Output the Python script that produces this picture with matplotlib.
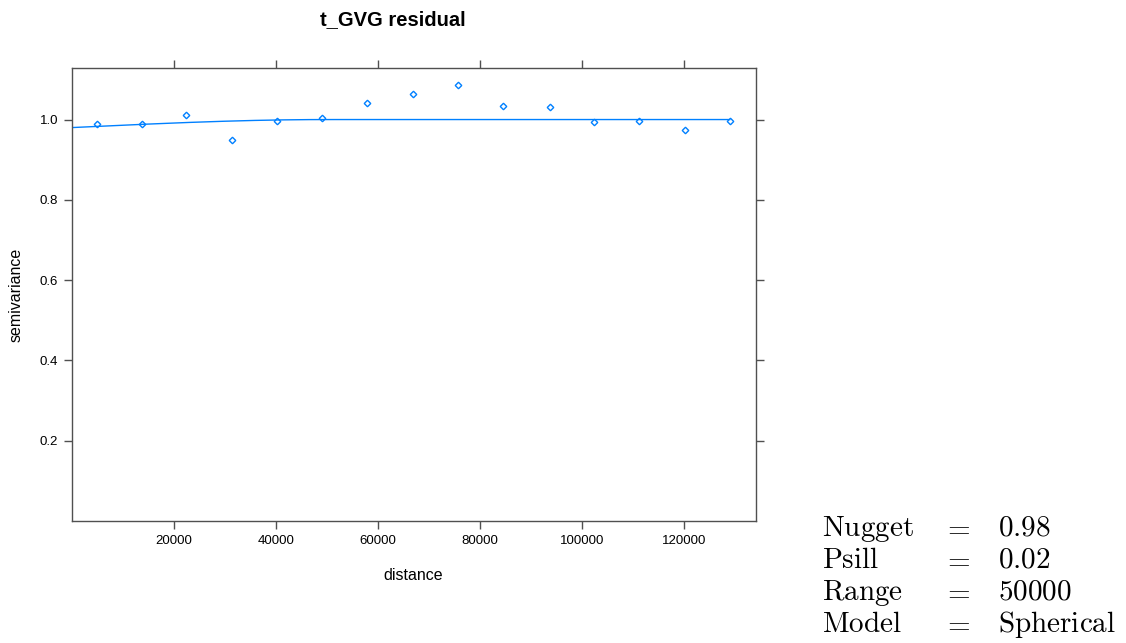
import numpy as np
import matplotlib
matplotlib.use("Agg")
import matplotlib.pyplot as plt

# ---- data ----
dist = [4996, 13651, 22444, 31295, 40147, 48998, 57850, 66819,
        75670, 84600, 93648, 102421, 111272, 120124, 128975]
gamma = [0.988, 0.989, 1.012, 0.949, 0.997, 1.005, 1.042, 1.063,
         1.085, 1.034, 1.032, 0.993, 0.997, 0.975, 0.997]
nugget = 0.98
psill = 0.02
vrange = 50000
model_name = "Spherical"
xticks = [20000, 40000, 60000, 80000, 100000, 120000]
yticks = [0.2, 0.4, 0.6, 0.8, 1.0]
title = "t_GVG residual"

plt.rcParams['font.family'] = ['Liberation Sans', 'DejaVu Sans']
plt.rcParams['mathtext.fontset'] = 'cm'

fig = plt.figure(figsize=(11.26, 6.43), dpi=100)
W, H = 1126, 643
ax = fig.add_axes([72 / W, 1 - 521 / H, (756 - 72) / W, (521 - 68) / H])

blue = "#0080ff"
# fitted spherical model curve
hx = np.linspace(0, max(dist), 400)
hr = np.clip(hx / vrange, 0, 1)
model = nugget + psill * (1.5 * hr - 0.5 * hr ** 3)
ax.plot(hx, model, color=blue, lw=1.0)
ax.plot(dist, gamma, linestyle='none', marker='D', ms=3.3, mfc='none',
        mec=blue, mew=1.0)

ax.set_xlim(0, 1.04 * max(dist))
ax.set_ylim(0, 1.04 * max(gamma))
ax.set_xticks(xticks)
ax.set_xticklabels([str(v) for v in xticks])
ax.set_yticks(yticks)
ax.set_yticklabels([f"{v:.1f}" for v in yticks])
frame = "#505050"
for s in ax.spines.values():
    s.set_color(frame)
    s.set_linewidth(1.0)
ax.tick_params(axis='both', which='both', direction='out', length=6,
               width=1, color=frame, labelsize=9.5, labelcolor='black',
               top=True, right=True, labeltop=False, labelright=False, pad=4)

fig.text(413 / W, 1 - 576 / H, "distance", ha='center', va='center', fontsize=11.5)
fig.text(16 / W, 1 - 295 / H, "semivariance", ha='center', va='center',
         rotation=90, fontsize=11.5)
fig.text(393 / W, 1 - 20 / H, title, ha='center', va='center',
         fontsize=14.5, fontweight='bold')

rows = [("Nugget", f"{nugget:.2f}"), ("Psill", f"{psill:.2f}"),
        ("Range", f"{vrange}"), ("Model", model_name)]
baselines = [536, 568, 600, 632]
for (lab, val), yb in zip(rows, baselines):
    y = 1 - yb / H
    fig.text(822 / W, y, r"$\mathrm{%s}$" % lab, ha='left', va='baseline', fontsize=21)
    fig.text(956 / W, y, r"$=$", ha='center', va='baseline', fontsize=21)
    fig.text(998 / W, y, r"$\mathrm{%s}$" % val, ha='left', va='baseline', fontsize=21)

fig.savefig("out.png", dpi=100)
